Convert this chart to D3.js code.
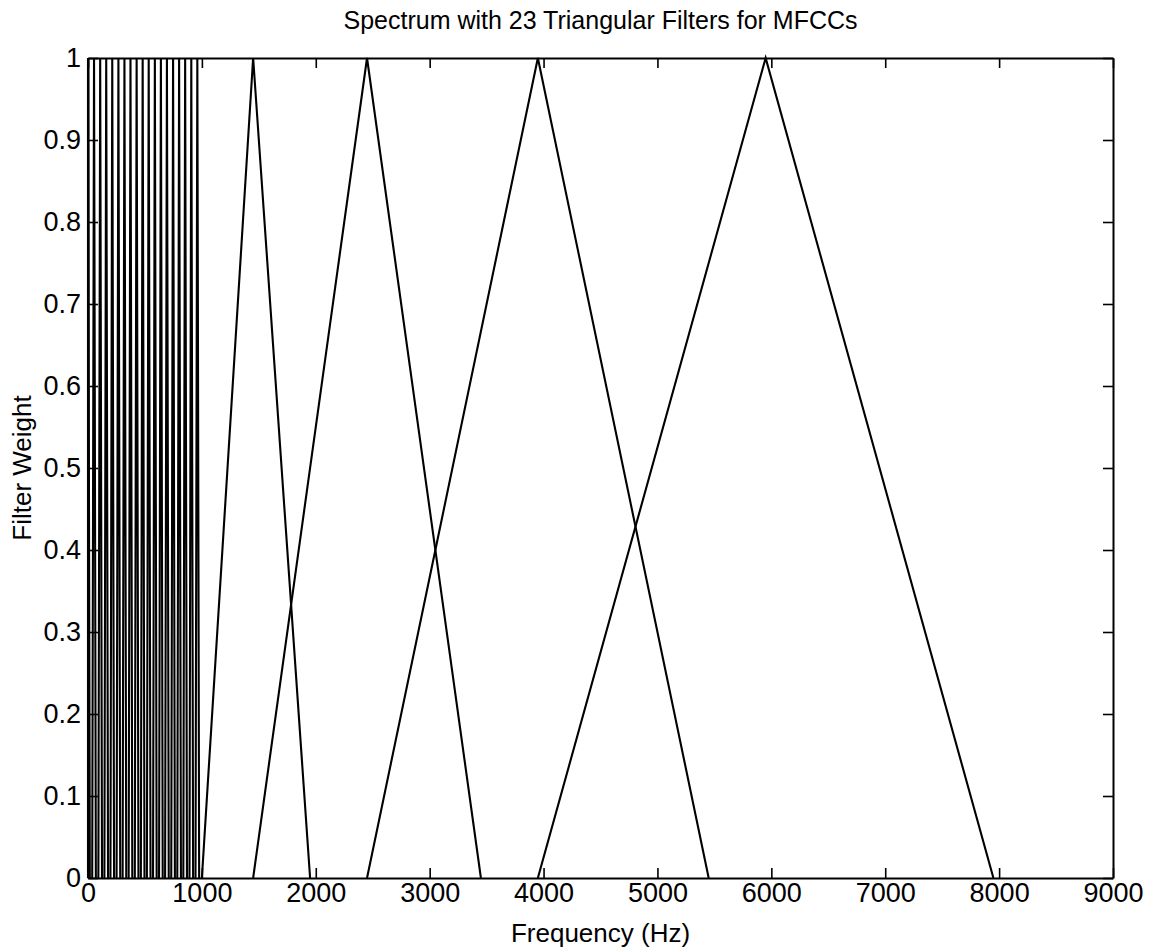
<!DOCTYPE html>
<html>
<head>
<meta charset="utf-8">
<script src="https://cdn.jsdelivr.net/npm/d3@7"></script>
<style>
  body { margin: 0; background: #fff; }
  text { font-family: "Liberation Sans", Arial, Helvetica, sans-serif; fill: #000; }
</style>
</head>
<body>
<div id="my_dataviz"></div>
<script>
// Triangular filter edges (Hz): low foot, peak, high foot
const filterLows  = [0, 37, 91, 144, 197, 251, 304, 357, 411, 464, 517, 571, 624, 677, 731, 784, 837, 891, 944, 1000, 1450, 2450, 3950];
const filterPeaks = [0, 53, 107, 160, 213, 267, 320, 373, 427, 480, 533, 587, 640, 693, 747, 800, 853, 907, 960, 1450, 2450, 3950, 5950];
const filterHighs = [16, 69, 123, 176, 229, 283, 336, 389, 443, 496, 549, 603, 656, 709, 763, 816, 869, 923, 976, 1950, 3450, 5450, 7950];

const xTicks = [0, 1000, 2000, 3000, 4000, 5000, 6000, 7000, 8000, 9000];
const yTicks = [0, 0.1, 0.2, 0.3, 0.4, 0.5, 0.6, 0.7, 0.8, 0.9, 1];

const titleText = "Spectrum with 23 Triangular Filters for MFCCs";
const xLabel = "Frequency (Hz)";
const yLabel = "Filter Weight";

// Dimensions
const totalWidth = 1150, totalHeight = 947;
const margin = { top: 58, right: 37, bottom: 69, left: 88 };
const width = totalWidth - margin.left - margin.right;
const height = totalHeight - margin.top - margin.bottom;

var svg = d3.select("#my_dataviz")
  .append("svg")
  .attr("width", totalWidth)
  .attr("height", totalHeight)
  .append("g")
  .attr("transform", "translate(" + margin.left + "," + margin.top + ")");

var xScale = d3.scaleLinear().domain([0, 9000]).range([0, width]);
var yScale = d3.scaleLinear().domain([0, 1]).range([height, 0]);

// Build triangle points for each filter
const filters = filterPeaks.map((p, i) => [
  [filterLows[i], 0], [p, 1], [filterHighs[i], 0]
]);

const line = d3.line()
  .x(d => xScale(d[0]))
  .y(d => yScale(d[1]));

svg.append("g")
  .selectAll("path")
  .data(filters)
  .enter()
  .append("path")
  .attr("d", line)
  .attr("fill", "none")
  .attr("stroke", "#000")
  .attr("stroke-width", 2.1)
  .attr("stroke-linejoin", "miter");

// Box axes, ticks inside (matlab style)
const tickLen = 10;
svg.append("g")
  .attr("transform", "translate(0," + height + ")")
  .call(d3.axisBottom(xScale).tickValues(xTicks).tickSizeInner(-tickLen).tickSizeOuter(0).tickPadding(5).tickFormat(d3.format("d")))
  .call(g => g.selectAll("text").style("font-size", "27px"));

svg.append("g")
  .call(d3.axisTop(xScale).tickValues(xTicks).tickSizeInner(-tickLen).tickSizeOuter(0).tickFormat(""));

svg.append("g")
  .call(d3.axisLeft(yScale).tickValues(yTicks).tickSizeInner(-tickLen).tickSizeOuter(0).tickPadding(7).tickFormat(d => d === 0 || d === 1 ? d3.format("d")(d) : d3.format(".1f")(d)))
  .call(g => g.selectAll("text").style("font-size", "27px"));

svg.append("g")
  .attr("transform", "translate(" + width + ",0)")
  .call(d3.axisRight(yScale).tickValues(yTicks).tickSizeInner(-tickLen).tickSizeOuter(0).tickFormat(""));

svg.selectAll(".domain").attr("stroke-width", 2);
svg.selectAll(".tick line").attr("stroke-width", 1.6);
svg.selectAll(".tick text").attr("fill", "#000");

// Title
svg.append("text")
  .attr("x", width / 2)
  .attr("y", -29)
  .style("text-anchor", "middle")
  .style("font-size", "25px")
  .text(titleText);

// X label
svg.append("text")
  .attr("x", width / 2)
  .attr("y", height + 64)
  .style("text-anchor", "middle")
  .style("font-size", "26px")
  .text(xLabel);

// Y label
svg.append("text")
  .attr("transform", "rotate(-90)")
  .attr("x", -height / 2)
  .attr("y", -margin.left + 31)
  .style("text-anchor", "middle")
  .style("font-size", "26px")
  .text(yLabel);
</script>
</body>
</html>
